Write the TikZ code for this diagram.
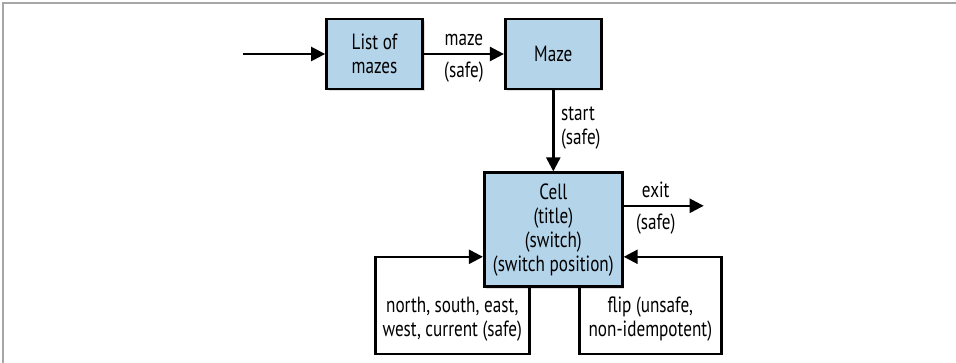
\documentclass[tikz,border=0pt]{standalone}
\usepackage{fontspec}
\setmainfont{PT Sans}[FakeStretch=0.78]
\usetikzlibrary{positioning, arrows.meta, shadows}
\definecolor{boxblue}{HTML}{B4D4EA}

\begin{document}
\begin{tikzpicture}[
            node distance=40pt,
            font={\fontsize{11pt}{12pt}\selectfont},
            box/.style={rectangle, draw, line width=1.4pt, fill=boxblue, align=center, minimum width=48pt, minimum height=35pt, drop shadow={opacity=0.25, shadow xshift=1pt, shadow yshift=-1pt}},
            arrow/.style={-{Triangle[length=7pt, width=7pt]}, line width=1.2pt}
        ]
        \useasboundingbox (0,0) rectangle (478pt,-181.5pt);
        \draw[gray!70, line width=0.9pt] (1.5pt,-181.5pt) -- (1.5pt,-1.5pt) -- (478pt,-1.5pt);

        \node[box] (list) at (187.25pt,-27pt) {List of\\mazes};
        \node[box, right=of list] (maze) {Maze};
        \node[box, below=40.5pt of maze, minimum width=69pt, minimum height=57pt, inner sep=2pt] (cell) {Cell\\(title)\\(switch)\\(switch position)};

        \coordinate[left=41pt of list] (in);
        \coordinate (out) at ([xshift=40pt, yshift=12pt]cell.east);

        \draw[arrow] (in) -- (list);
        \draw[arrow] (list) -- node[above]{maze} node[below]{(safe)} (maze);
        \draw[arrow] (maze) -- node[right, align=left, yshift=1.5pt]{start\\(safe)} (cell);
        \draw[arrow] ([yshift=12pt]cell.east) -- node[above, pos=0.4]{exit} node[below, pos=0.4]{(safe)} (out);
        \draw[arrow] ([xshift=-12pt]cell.south) -- ++(0,-33pt) -- node[above=2.5pt, align=center]{north, south, east,\\west, current (safe)} ++(-77pt,0) |- ([yshift=-13.5pt]cell.west);
        \draw[arrow] ([xshift=13pt]cell.south) -- ++(0,-33pt) -- node[above=2.5pt, align=center]{flip (unsafe,\\non-idempotent)} ++(71pt,0) |- ([yshift=-13.5pt]cell.east);
    \end{tikzpicture}
\end{document}
